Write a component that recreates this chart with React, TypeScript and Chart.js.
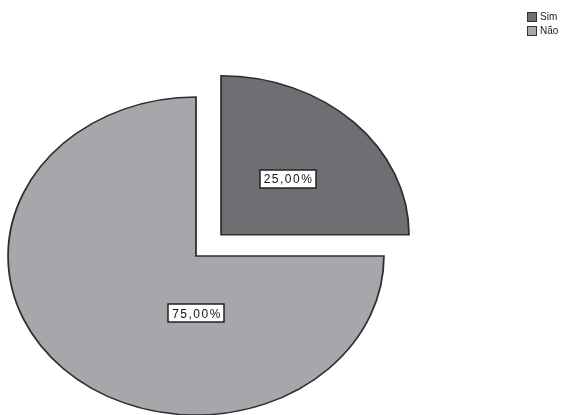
import React, { useEffect, useRef } from "react";
import { Chart, registerables } from "chart.js";

Chart.register(...registerables);

const categories = ["Sim", "Não"];
const values = [25, 75];
const sliceColors = ["#6e6f73", "#a6a7aa"];
const sliceOffsets = [120, 0];
const labelAngleDeg: (number | null)[] = [null, 90];
const labelRadiusFrac = [0.5, 0.36];

const X_STRETCH = 1.182;

function fmtPct(v: number, total: number) {
  return ((v / total) * 100).toFixed(2).replace(".", ",") + "%";
}

const stretchPlugin = {
  id: "stretch",
  beforeDatasetsDraw(chart: any) {
    const arc = chart.getDatasetMeta(0).data[0];
    const ctx = chart.ctx;
    ctx.save();
    ctx.translate(arc.x, arc.y);
    ctx.scale(X_STRETCH, 1);
    ctx.translate(-arc.x, -arc.y);
  },
  afterDatasetsDraw(chart: any) {
    chart.ctx.restore();
    const ctx = chart.ctx;
    const meta = chart.getDatasetMeta(0);
    const data = chart.data.datasets[0].data as number[];
    const total = data.reduce((a, b) => a + b, 0);
    meta.data.forEach((arc: any, i: number) => {
      const { x, y, startAngle, endAngle, outerRadius } = arc.getProps(
        ["x", "y", "startAngle", "endAngle", "outerRadius"],
        true
      );
      const mid = (startAngle + endAngle) / 2;
      const off = (arc.options.offset || 0) / 4;
      const ox = x + Math.cos(mid) * off * X_STRETCH;
      const oy = y + Math.sin(mid) * off;
      const ang = labelAngleDeg[i] == null ? mid : ((labelAngleDeg[i] as number) * Math.PI) / 180;
      const d = outerRadius * labelRadiusFrac[i];
      const lx = ox + Math.cos(ang) * d * X_STRETCH;
      const ly = oy + Math.sin(ang) * d;
      const text = fmtPct(data[i], total);
      ctx.save();
      ctx.font = "12px 'Liberation Sans', Arial, sans-serif";
      (ctx as any).letterSpacing = "1.5px";
      const w = ctx.measureText(text).width;
      const bw = w + 6;
      const bh = 18;
      ctx.fillStyle = "#ffffff";
      ctx.fillRect(Math.round(lx - bw / 2), Math.round(ly - bh / 2), Math.round(bw), bh);
      ctx.strokeStyle = "#222222";
      ctx.lineWidth = 1.5;
      ctx.strokeRect(Math.round(lx - bw / 2), Math.round(ly - bh / 2), Math.round(bw), bh);
      ctx.fillStyle = "#111111";
      ctx.textAlign = "center";
      ctx.textBaseline = "middle";
      ctx.fillText(text, lx + 1, ly + 1);
      ctx.restore();
    });
  },
};

const legendPlugin = {
  id: "customLegend",
  afterDraw(chart: any) {
    const ctx = chart.ctx;
    const labels = chart.data.labels as string[];
    const colors = chart.data.datasets[0].backgroundColor as string[];
    const left = chart.width - 43;
    const top = 12;
    labels.forEach((lab, i) => {
      const y = top + i * 14;
      ctx.save();
      ctx.fillStyle = colors[i];
      ctx.fillRect(left, y, 9, 9);
      ctx.strokeStyle = "#333333";
      ctx.lineWidth = 1;
      ctx.strokeRect(left + 0.5, y + 0.5, 9, 9);
      ctx.fillStyle = "#222222";
      ctx.font = "10px 'Liberation Sans', Arial, sans-serif";
      ctx.textAlign = "left";
      ctx.textBaseline = "middle";
      ctx.fillText(lab, left + 13, y + 5);
      ctx.restore();
    });
  },
};

export default function App() {
  const ref = useRef<HTMLCanvasElement | null>(null);
  useEffect(() => {
    document.body.style.margin = "0";
    if (!ref.current) return;
    const chart = new Chart(ref.current, {
      type: "pie",
      data: {
        labels: categories,
        datasets: [
          {
            data: values,
            backgroundColor: sliceColors,
            borderColor: "#2e2e2e",
            borderWidth: 1.5,
            borderJoinStyle: "miter",
            offset: sliceOffsets,
          } as any,
        ],
      },
      options: {
        animation: false,
        responsive: true,
        maintainAspectRatio: false,
        radius: 159,
        layout: { padding: { left: 0, right: 178, top: 97, bottom: 0 } },
        plugins: {
          legend: { display: false },
          tooltip: { enabled: false },
          title: { display: false },
        },
        events: [],
      } as any,
      plugins: [stretchPlugin, legendPlugin],
    });
    return () => chart.destroy();
  }, []);
  return (
    <div style={{ width: 570, height: 415, position: "relative", background: "#fff" }}>
      <canvas ref={ref} />
    </div>
  );
}
